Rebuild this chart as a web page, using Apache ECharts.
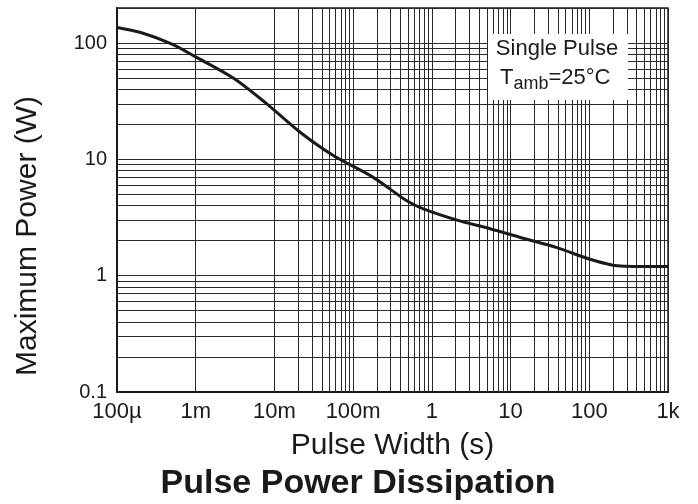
<!DOCTYPE html>
<html>
<head>
<meta charset="utf-8">
<script src="https://cdn.jsdelivr.net/npm/echarts@6/dist/echarts.min.js"></script>
<style>
  html, body { margin: 0; padding: 0; background: #fff; }
  #chart { width: 698px; height: 504px; }
</style>
</head>
<body>
<div id="chart"></div>
<script>
// Single-pulse power rating curve: pulse width (s) vs. maximum power (W)
const pulseWidth = [1e-4, 2e-4, 5e-4, 1e-3, 3e-3, 8e-3, 0.021, 0.056, 0.18, 0.48, 0.78, 2.1, 5.5, 14, 38, 100, 200, 300, 440, 1000];
const maxPower   = [136, 123, 98, 76, 50, 30, 17.2, 10.8, 7.0, 4.4, 3.75, 3.0, 2.53, 2.11, 1.75, 1.39, 1.23, 1.205, 1.20, 1.20];

// Decade tick labels
const xTickLabels = ['100µ', '1m', '10m', '100m', '1', '10', '100', '1k'];
const yTickLabels = ['0.1', '1', '10', '100'];

// Decades that carry 2..9 minor grid lines
const xDecades = [1e-4, 1e-3, 1e-2, 1e-1, 1, 10, 100];
const yDecades = [0.1, 1, 10];
const minorSteps = [2, 3, 4, 5, 6, 7, 8, 9];

const FONT = "'Liberation Sans', Arial, Helvetica, sans-serif";
const INK = '#1a1a1a';
const GRID = '#2a2a2a';

const minorOf = decades => decades.flatMap(d => minorSteps.map(m => +(d * m).toPrecision(3)));
const gridLines = [
  ...minorOf(xDecades).map(v => ({ xAxis: v })),
  ...minorOf(yDecades).map(v => ({ yAxis: v }))
];

const isDecade = v => Math.abs(Math.log10(v) - Math.round(Math.log10(v))) < 1e-6;
const decadeIndex = (v, base) => Math.round(Math.log10(v) - Math.log10(base));

const chart = echarts.init(document.getElementById('chart'), null, { renderer: 'canvas' });

chart.setOption({
  animation: false,
  backgroundColor: '#fff',
  textStyle: { fontFamily: FONT, color: INK },
  title: {
    text: 'Pulse Power Dissipation',
    left: 353,
    textAlign: 'center',
    top: 462,
    textStyle: { fontFamily: FONT, fontSize: 34, fontWeight: 'bold', color: INK }
  },
  grid: {
    left: 117, top: 8, width: 551, height: 384,
    show: true, borderColor: INK, borderWidth: 1.5, backgroundColor: 'transparent'
  },
  xAxis: {
    type: 'log',
    logBase: 10,
    min: 1e-4,
    max: 1e3,
    name: 'Pulse Width (s)',
    nameLocation: 'middle',
    nameGap: 39,
    nameTextStyle: { fontFamily: FONT, fontSize: 30, color: INK },
    axisLine: { show: true, lineStyle: { color: INK, width: 2 } },
    axisTick: { show: false },
    axisLabel: {
      fontFamily: FONT, fontSize: 22, color: INK, margin: 9,
      formatter: v => isDecade(v) ? (xTickLabels[decadeIndex(v, 1e-4)] || '') : ''
    },
    splitLine: { show: true, lineStyle: { color: GRID, width: 1 } }
  },
  yAxis: {
    type: 'log',
    logBase: 10,
    min: 0.1,
    max: 200,
    name: 'Maximum Power (W)',
    nameLocation: 'middle',
    nameGap: 74,
    nameTextStyle: { fontFamily: FONT, fontSize: 30, color: INK, padding: [0, 72, 0, 0] },
    axisLine: { show: true, lineStyle: { color: INK, width: 2 } },
    axisTick: { show: false },
    axisLabel: {
      fontFamily: FONT, fontSize: 20, color: INK, margin: 10,
      formatter: v => isDecade(v) ? (yTickLabels[decadeIndex(v, 0.1)] || '') : ''
    },
    splitLine: { show: true, lineStyle: { color: GRID, width: 1 } }
  },
  series: [{
    type: 'line',
    data: pulseWidth.map((t, i) => [t, maxPower[i]]),
    smooth: 0.3,
    symbol: 'none',
    lineStyle: { color: INK, width: 3 },
    z: 5,
    markLine: {
      silent: true,
      symbol: 'none',
      label: { show: false },
      lineStyle: { color: GRID, width: 1, type: 'solid' },
      emphasis: { disabled: true },
      data: gridLines,
      z: 1
    }
  }],
  graphic: [
    { type: 'rect', z: 100, shape: { x: 488, y: 34, width: 140, height: 66 }, style: { fill: '#fff' } },
    { type: 'text', z: 101, x: 557, y: 49, style: { text: 'Single Pulse', font: `22px ${FONT}`, fill: INK, align: 'center', verticalAlign: 'middle' } },
    { type: 'text', z: 101, x: 500, y: 78.3, style: { text: 'T', font: `22px ${FONT}`, fill: INK, align: 'left', verticalAlign: 'middle' } },
    { type: 'text', z: 101, x: 513.4, y: 83.7, style: { text: 'amb', font: `18px ${FONT}`, fill: INK, align: 'left', verticalAlign: 'middle' } },
    { type: 'text', z: 101, x: 548.4, y: 78.3, style: { text: '=25°C', font: `22px ${FONT}`, fill: INK, align: 'left', verticalAlign: 'middle' } }
  ]
});
</script>
</body>
</html>
